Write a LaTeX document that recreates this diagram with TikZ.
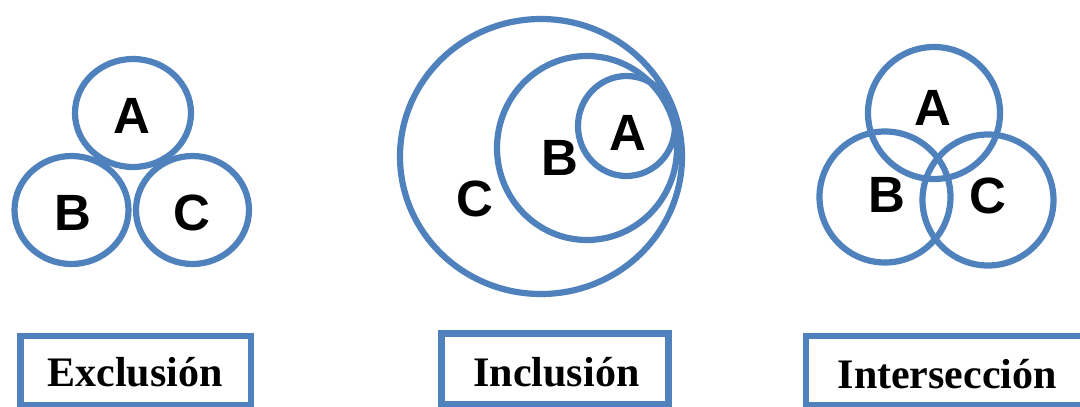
\documentclass[tikz,border=0pt]{standalone}
\usepackage{fontspec}
\setmainfont{Liberation Serif}
\newfontfamily\letterfont{Liberation Sans}
\usetikzlibrary{shapes.geometric}
\definecolor{setblue}{HTML}{4F81BD}
\begin{document}
\begin{tikzpicture}[x=1pt,y=-1pt,
  setshape/.style={ellipse,draw=setblue,line width=6.2pt,inner sep=0pt,fill=none},
  setletter/.style={anchor=base,inner sep=0pt,font=\letterfont\bfseries\fontsize{51}{51}\selectfont},
  labelbox/.style={rectangle,draw=setblue,line width=6.5pt,inner sep=0pt},
  labeltext/.style={anchor=base,inner sep=0pt,font=\bfseries\fontsize{42}{42}\selectfont}]
\useasboundingbox (0,0) rectangle (1080,407);
% Exclusion
\node[setshape,minimum width=116pt,minimum height=108pt] (exA) at (133,113) {};
\node[setshape,minimum width=114pt,minimum height=108pt] (exB) at (71.5,210) {};
\node[setshape,minimum width=113pt,minimum height=108pt] (exC) at (192.5,210) {};
\node[setletter] (exAl) at (132,133.5) {A};
\node[setletter] (exBl) at (73,230) {B};
\node[setletter] (exCl) at (192,230) {C};
% Inclusion
\node[setshape,minimum width=282pt,minimum height=275pt] (inC) at (541,156.5) {};
\node[setshape,minimum width=180pt,minimum height=184pt] (inB) at (587,148) {};
\node[setshape,minimum width=97pt,minimum height=100pt] (inA) at (626.5,126) {};
\node[setletter] (inAl) at (627.5,150) {A};
\node[setletter] (inBl) at (560,175) {B};
\node[setletter] (inCl) at (475,216) {C};
% Intersection
\node[setshape,minimum width=132pt,minimum height=132pt] (itA) at (934,113) {};
\node[setshape,minimum width=131pt,minimum height=131pt] (itB) at (885,197) {};
\node[setshape,minimum width=131pt,minimum height=131pt] (itC) at (988,200) {};
\node[setletter] (itAl) at (933,125) {A};
\node[setletter] (itBl) at (887,212) {B};
\node[setletter] (itCl) at (988,213) {C};
% Label boxes
\node[labelbox,minimum width=230.5pt,minimum height=68.8pt] (box1) at (135.5,370.35) {};
\node[labelbox,minimum width=227.2pt,minimum height=71pt] (box2) at (554.85,368.75) {};
\node[labelbox,minimum width=282.8pt,minimum height=68.8pt] (box3) at (947.35,370.35) {};
\node[labeltext] (t1) at (135,386.7) {Exclusión};
\node[labeltext] (t2) at (556.5,386.7) {Inclusión};
\node[labeltext] (t3) at (947.3,388) {Intersección};
\end{tikzpicture}
\end{document}
